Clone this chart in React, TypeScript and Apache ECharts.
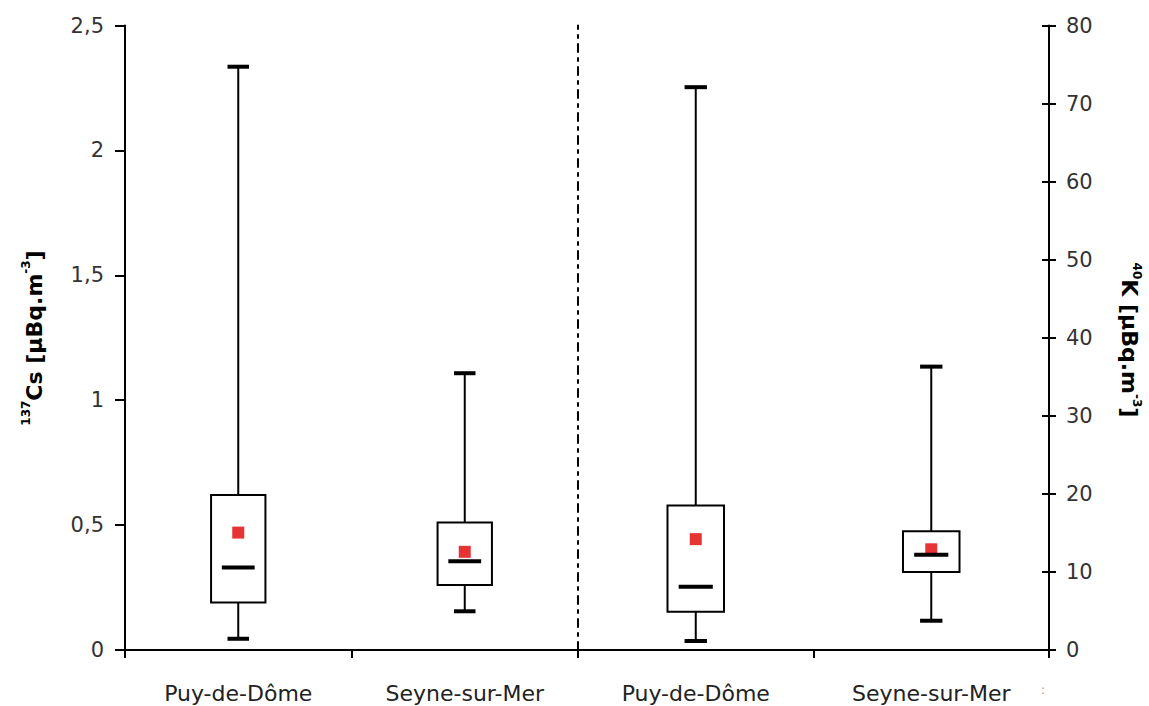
import React, { useEffect, useRef } from "react";
import * as echarts from "echarts";

const categories = ["Puy-de-Dôme", "Seyne-sur-Mer"];

// 137Cs [µBq.m-3]
const csMin = [0.045, 0.155];
const csQ1 = [0.19, 0.26];
const csMedian = [0.33, 0.355];
const csQ3 = [0.62, 0.51];
const csMax = [2.335, 1.108];
const csMean = [0.47, 0.393];

// 40K [µBq.m-3]
const kMin = [1.15, 3.75];
const kQ1 = [4.9, 10.0];
const kMedian = [8.1, 12.2];
const kQ3 = [18.5, 15.2];
const kMax = [72.1, 36.3];
const kMean = [14.2, 12.9];

const csTicks = { min: 0, max: 2.5, interval: 0.5 };
const kTicks = { min: 0, max: 80, interval: 10 };

const FONT = "DejaVu Sans";

function boxData(mins: number[], q1: number[], med: number[], q3: number[], maxs: number[]) {
  return categories.map((_, i) => [i, mins[i], q1[i], med[i], q3[i], maxs[i]]);
}

const renderBox = (params: any, api: any) => {
  const idx = api.value(0);
  const band = api.size([1, 0])[0];
  const pMin = api.coord([idx, api.value(1)]);
  const pQ1 = api.coord([idx, api.value(2)]);
  const pQ3 = api.coord([idx, api.value(4)]);
  const pMax = api.coord([idx, api.value(5)]);
  const cx = pMin[0];
  const bw = band * 0.24;
  const cw = band * 0.095;
  const thin = { stroke: "#000", lineWidth: 2 };
  const thick = { stroke: "#000", lineWidth: 4 };
  return {
    type: "group",
    children: [
      { type: "line", shape: { x1: cx, y1: pMax[1], x2: cx, y2: pQ3[1] }, style: thin },
      { type: "line", shape: { x1: cx, y1: pQ1[1], x2: cx, y2: pMin[1] }, style: thin },
      { type: "line", shape: { x1: cx - cw / 2, y1: pMax[1], x2: cx + cw / 2, y2: pMax[1] }, style: thick },
      { type: "line", shape: { x1: cx - cw / 2, y1: pMin[1], x2: cx + cw / 2, y2: pMin[1] }, style: thick },
      {
        type: "rect",
        shape: { x: cx - bw / 2, y: pQ3[1], width: bw, height: pQ1[1] - pQ3[1] },
        style: { fill: "#fff", stroke: "#000", lineWidth: 2 },
      },
    ],
  };
};

const renderMedian = (params: any, api: any) => {
  const idx = api.value(0);
  const band = api.size([1, 0])[0];
  const p = api.coord([idx, api.value(1)]);
  const mw = band * 0.145;
  return {
    type: "line",
    shape: { x1: p[0] - mw / 2, y1: p[1], x2: p[0] + mw / 2, y2: p[1] },
    style: { stroke: "#000", lineWidth: 4 },
  };
};

export default function App() {
  const ref = useRef<HTMLDivElement>(null);

  useEffect(() => {
    if (!ref.current) return;
    const chart = echarts.init(ref.current, undefined, { renderer: "svg" });

    const xAxisBase = (gridIndex: number) => ({
      type: "category",
      gridIndex,
      data: categories,
      boundaryGap: true,
      axisLine: { show: true, onZero: false, lineStyle: { color: "#000", width: 2 } },
      axisTick: { show: true, length: 8, lineStyle: { color: "#000", width: 2 } },
      axisLabel: { interval: 0, fontSize: 22, fontFamily: FONT, color: "#222", margin: 32 },
      splitLine: { show: false },
    });

    const option: any = {
      animation: false,
      backgroundColor: "#fff",
      grid: [
        { left: 125, top: 25.5, width: 453, height: 624.5 },
        { left: 578, top: 25.5, width: 471, height: 624.5 },
      ],
      xAxis: [xAxisBase(0), xAxisBase(1)],
      yAxis: [
        {
          type: "value",
          gridIndex: 0,
          position: "left",
          ...csTicks,
          axisLine: { show: true, lineStyle: { color: "#000", width: 2 } },
          axisTick: { show: true, length: 10, lineStyle: { color: "#000", width: 2 } },
          axisLabel: {
            fontSize: 21,
            fontFamily: FONT,
            color: "#333",
            margin: 21,
            formatter: (v: number) => String(v).replace(".", ","),
          },
          splitLine: { show: false },
        },
        {
          type: "value",
          gridIndex: 1,
          position: "right",
          ...kTicks,
          axisLine: { show: true, lineStyle: { color: "#000", width: 2 } },
          axisTick: { show: true, length: 7, lineStyle: { color: "#000", width: 2 } },
          axisLabel: { fontSize: 21, fontFamily: FONT, color: "#333", margin: 17 },
          splitLine: { show: false },
        },
        {
          type: "value",
          gridIndex: 1,
          position: "right",
          ...kTicks,
          axisLine: { show: false },
          axisTick: { show: true, inside: true, length: 7, lineStyle: { color: "#000", width: 2 } },
          axisLabel: { show: false },
          splitLine: { show: false },
        },
        {
          type: "value",
          gridIndex: 1,
          position: "left",
          ...kTicks,
          axisLine: { show: true, lineStyle: { color: "#000", width: 2, type: [8, 6, 3, 6] } },
          axisTick: { show: false },
          axisLabel: { show: false },
          splitLine: { show: false },
        },
      ],
      graphic: [
        {
          type: "text",
          x: 34,
          y: 338,
          rotation: Math.PI / 2,
          style: {
            text: "{sup|137}{main|Cs [µBq.m}{sup|-3}{main|]}",
            align: "center",
            verticalAlign: "middle",
            fill: "#000",
            rich: {
              main: { fontSize: 22, fontWeight: "bold", fontFamily: FONT, lineHeight: 28, fill: "#000" },
              sup: { fontSize: 12, fontWeight: "bold", fontFamily: FONT, verticalAlign: "top", lineHeight: 14, fill: "#000" },
            },
          },
        },
        {
          type: "text",
          x: 1129,
          y: 340,
          rotation: -Math.PI / 2,
          style: {
            text: "{sup|40}{main|K [µBq.m}{sup|-3}{main|]}",
            align: "center",
            verticalAlign: "middle",
            fill: "#000",
            rich: {
              main: { fontSize: 22, fontWeight: "bold", fontFamily: FONT, lineHeight: 28, fill: "#000" },
              sup: { fontSize: 12, fontWeight: "bold", fontFamily: FONT, verticalAlign: "top", lineHeight: 14, fill: "#000" },
            },
          },
        },
        {
          type: "text",
          x: 1043,
          y: 690,
          style: { text: ":", fontSize: 12, fontFamily: FONT, fill: "#999", align: "center", verticalAlign: "middle" },
        },
      ],
      series: [
        {
          type: "custom",
          name: "Cs box",
          xAxisIndex: 0,
          yAxisIndex: 0,
          z: 2,
          renderItem: renderBox,
          encode: { x: 0, y: [1, 2, 3, 4, 5] },
          data: boxData(csMin, csQ1, csMedian, csQ3, csMax),
        },
        {
          type: "custom",
          name: "K box",
          xAxisIndex: 1,
          yAxisIndex: 1,
          z: 2,
          renderItem: renderBox,
          encode: { x: 0, y: [1, 2, 3, 4, 5] },
          data: boxData(kMin, kQ1, kMedian, kQ3, kMax),
        },
        {
          type: "scatter",
          name: "Cs mean",
          xAxisIndex: 0,
          yAxisIndex: 0,
          z: 3,
          symbol: "rect",
          symbolSize: 12,
          itemStyle: { color: "#e00000" },
          data: categories.map((_, i) => [i, csMean[i]]),
        },
        {
          type: "scatter",
          name: "K mean",
          xAxisIndex: 1,
          yAxisIndex: 1,
          z: 3,
          symbol: "rect",
          symbolSize: 12,
          itemStyle: { color: "#e00000" },
          data: categories.map((_, i) => [i, kMean[i]]),
        },
        {
          type: "custom",
          name: "Cs median",
          xAxisIndex: 0,
          yAxisIndex: 0,
          z: 4,
          renderItem: renderMedian,
          encode: { x: 0, y: 1 },
          data: categories.map((_, i) => [i, csMedian[i]]),
        },
        {
          type: "custom",
          name: "K median",
          xAxisIndex: 1,
          yAxisIndex: 1,
          z: 4,
          renderItem: renderMedian,
          encode: { x: 0, y: 1 },
          data: categories.map((_, i) => [i, kMedian[i]]),
        },
      ],
    };

    chart.setOption(option);
    return () => chart.dispose();
  }, []);

  return (
    <div
      ref={ref}
      style={{ position: "fixed", left: 0, top: 0, width: 1149, height: 706, background: "#fff" }}
    />
  );
}
